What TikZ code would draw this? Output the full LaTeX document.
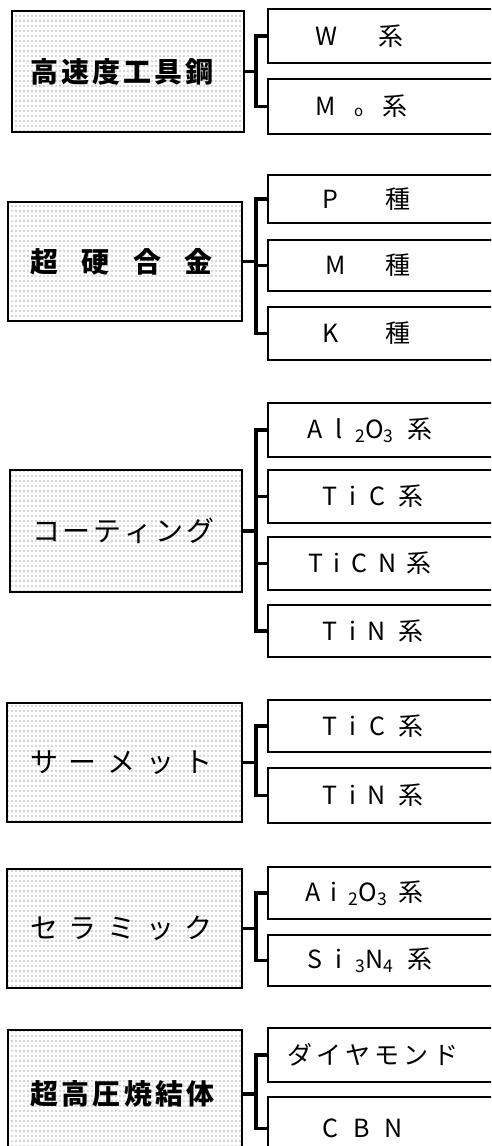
\documentclass[tikz,border=0pt]{standalone}
\usepackage{fontspec}
\setmainfont{Noto Sans CJK JP}
\usetikzlibrary{patterns}
\pgfdeclarepatternformonly{refdots}{\pgfqpoint{-1pt}{-1pt}}{\pgfqpoint{1pt}{1pt}}{\pgfqpoint{4pt}{5pt}}{\pgfpathcircle{\pgfqpoint{0pt}{0pt}}{0.7pt}\pgfusepath{fill}}
\newcommand\boxtext[4]{\makebox[#1pt][l]{\hspace*{#2pt}\makebox[#3pt][s]{#4}}}
\newcommand\smallo{\raisebox{-1pt}{\fontsize{15}{15}\selectfont o}}
\begin{document}
\begin{tikzpicture}[x=1pt,y=-1pt,
  lbox/.style={draw, line width=1.6pt, pattern=refdots, pattern color=black!70, inner sep=0pt, font=\fontsize{28}{28}\selectfont},
  rbox/.style={draw, line width=1.8pt, fill=white, inner sep=0pt, minimum width=240pt, font=\fontsize{25}{25}\selectfont},
  br/.style={line width=3.5pt, line join=miter}]
\useasboundingbox (0,0) rectangle (491,1146);
\clip (0,0) rectangle (491,1146);
\coordinate (bx) at (256,0);
% group 1
\node[lbox, minimum height=121pt] (hss) at (128,71.5) {\boxtext{232}{18}{184}{\bfseries 高\hfil 速\hfil 度\hfil 工\hfil 具\hfil 鋼}};
\node[rbox, minimum height=54pt] (w) at (388,36) {\boxtext{240}{47}{88}{W\hfil 系}};
\node[rbox, minimum height=55pt] (mo) at (388,106.5) {\boxtext{240}{47}{92}{M\hfil\smallo\hfil 系}};
\draw[br] (hss.east) -- (hss.east -| bx);
\draw[br] (w.west) -- (w.west -| bx) -- (mo.west -| bx) -- (mo.west);
% group 2
\node[lbox, minimum height=119pt] (cc) at (125,261.5) {\boxtext{234}{22}{183}{\bfseries 超\hfil 硬\hfil 合\hfil 金}};
\node[rbox, minimum height=48pt] (p) at (388,199) {\boxtext{240}{54}{88}{P\hfil 種}};
\node[rbox, minimum height=51pt] (m) at (388,265.5) {\boxtext{240}{57}{85}{M\hfil 種}};
\node[rbox, minimum height=53pt] (k) at (388,333.5) {\boxtext{240}{54}{88}{K\hfil 種}};
\draw[br] (cc.east) -- (cc.east -| bx);
\draw[br] (p.west) -- (p.west -| bx) -- (k.west -| bx) -- (k.west);
\draw[br] (m.west) -- (m.west -| bx);
% group 3
\node[lbox, minimum height=122pt] (ct) at (126,531) {\boxtext{232}{22}{183}{コ\hfil ー\hfil テ\hfil ィ\hfil ン\hfil グ}};
\node[rbox, minimum height=54pt] (ca) at (388,430) {\boxtext{240}{39}{125}{A\hfil l\hfil \textsubscript{2}O\textsubscript{3}\hfil 系}};
\node[rbox, minimum height=53pt] (cb) at (388,496.5) {\boxtext{240}{54}{101}{T\hfil i\hfil C\hfil 系}};
\node[rbox, minimum height=53pt] (cn) at (388,563.5) {\boxtext{240}{40}{124}{T\hfil i\hfil C\hfil N\hfil 系}};
\node[rbox, minimum height=52pt] (cd) at (388,631) {\boxtext{240}{54}{101}{T\hfil i\hfil N\hfil 系}};
\draw[br] (ct.east) -- (ct.east -| bx);
\draw[br] (ca.west) -- (ca.west -| bx) -- (cd.west -| bx) -- (cd.west);
\draw[br] (cb.west) -- (cb.west -| bx);
\draw[br] (cn.west) -- (cn.west -| bx);
% group 4
\node[lbox, minimum height=119pt] (cm) at (124.5,762.5) {\boxtext{235}{23}{183}{サ\hfil ー\hfil メ\hfil ッ\hfil ト}};
\node[rbox, minimum height=52pt] (ma) at (388,726) {\boxtext{240}{54}{101}{T\hfil i\hfil C\hfil 系}};
\node[rbox, minimum height=55pt] (mb) at (388,795.5) {\boxtext{240}{54}{101}{T\hfil i\hfil N\hfil 系}};
\draw[br] (cm.east) -- (cm.east -| bx);
\draw[br] (ma.west) -- (ma.west -| bx) -- (mb.west -| bx) -- (mb.west);
% group 5
\node[lbox, minimum height=119pt] (cr) at (124.5,928.5) {\boxtext{235}{23}{183}{セ\hfil ラ\hfil ミ\hfil ッ\hfil ク}};
\node[rbox, minimum height=52pt] (ra) at (388,893) {\boxtext{240}{37}{118}{A\hfil i\hfil \textsubscript{2}O\textsubscript{3}\hfil 系}};
\node[rbox, minimum height=51pt] (rb) at (388,960.5) {\boxtext{240}{39}{125}{S\hfil i\hfil \textsubscript{3}N\textsubscript{4}\hfil 系}};
\draw[br] (cr.east) -- (cr.east -| bx);
\draw[br] (ra.west) -- (ra.west -| bx) -- (rb.west -| bx) -- (rb.west);
% group 6
\node[lbox, minimum height=128pt] (sp) at (125,1094) {\boxtext{234}{22}{185}{\bfseries 超\hfil 高\hfil 圧\hfil 焼\hfil 結\hfil 体}};
\node[rbox, minimum height=54pt] (sa) at (388,1055) {\boxtext{240}{19}{171}{ダ\hfil イ\hfil ヤ\hfil モ\hfil ン\hfil ド}};
\node[rbox, minimum height=63pt] (sb) at (388,1128.5) {\boxtext{240}{54}{81}{C\hfil B\hfil N}};
\draw[br] (sp.east) -- (sp.east -| bx);
\draw[br] (sa.west) -- (sa.west -| bx) -- (sb.west -| bx) -- (sb.west);
\end{tikzpicture}
\end{document}
